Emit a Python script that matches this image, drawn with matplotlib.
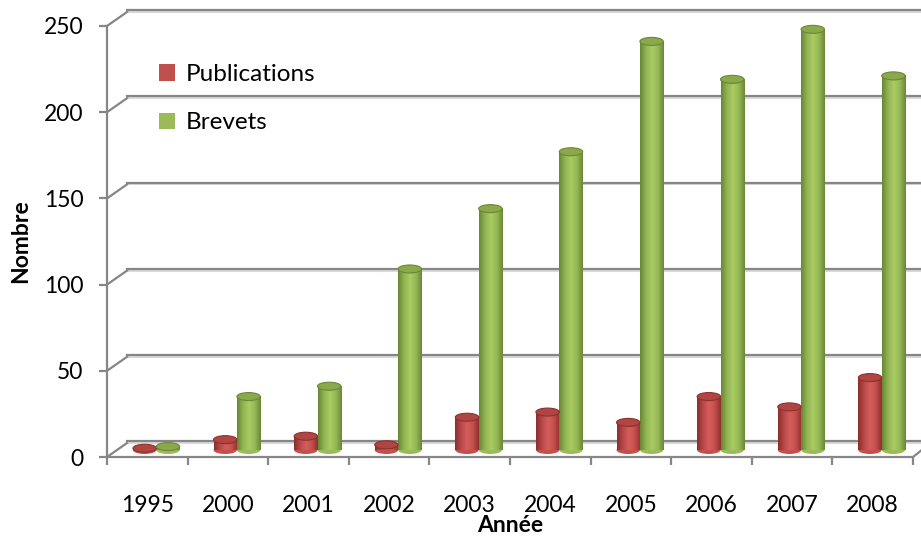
import matplotlib.pyplot as plt
import numpy as np
from matplotlib.colors import LinearSegmentedColormap
from matplotlib.patches import Ellipse, Patch
from matplotlib.transforms import ScaledTranslation

annees = ['1995', '2000', '2001', '2002', '2003', '2004', '2005', '2006', '2007', '2008']
publications = [1, 6, 8, 3, 19, 22, 16, 31, 25, 42]
brevets = [2, 31, 37, 105, 140, 173, 237, 215, 244, 217]
y_ticks = [0, 50, 100, 150, 200, 250]

plt.rcParams['font.family'] = ['Lato', 'DejaVu Sans']

fig = plt.figure(figsize=(9.21, 5.40), dpi=100)
ax = fig.add_axes([107 / 921, 83 / 540, 806 / 921, 431 / 540])
ax.set_xlim(-0.5, len(annees) - 0.5)
ax.set_ylim(0, 250)

grid_col = '#868686'
# back wall offset (3D look) in axes fraction
bx, by = 20 / 806, 14 / 431
for v in y_ticks:
    yf = v / 250
    ax.plot([bx, 1.2], [yf + by, yf + by], transform=ax.transAxes, color='#d9d9d9',
            lw=1.5, clip_on=False, zorder=0.5, solid_capstyle='butt')
    ax.plot([bx, 1.2], [yf + by + 0.004, yf + by + 0.004], transform=ax.transAxes,
            color=grid_col, lw=1.6, clip_on=False, zorder=1)
    ax.plot([0, bx], [yf, yf + by], transform=ax.transAxes, color=grid_col,
            lw=1.6, clip_on=False, zorder=1)
# right end of floor
ax.plot([1, 1.012], [0, 0.018], transform=ax.transAxes, color=grid_col, lw=1.6, clip_on=False)

# cylinders
shift = ScaledTranslation(9 / 100, 7 / 100, fig.dpi_scale_trans)
trans = ax.transData + shift
w = 0.29
ell_h = 8 / 1.724

red_cm = LinearSegmentedColormap.from_list('r', ['#8a2e2b', '#b8484a', '#d65e5b', '#c3504d', '#8f302d'])
green_cm = LinearSegmentedColormap.from_list('g', ['#6a8633', '#92b454', '#a9cc62', '#96b957', '#6b8734'])
grad = np.linspace(0, 1, 64).reshape(1, -1)

def cylinder(xc, h, cmap, base, top, edge):
    x0, x1 = xc - w / 2, xc + w / 2
    ax.add_patch(Ellipse((xc, 0), w, ell_h, facecolor=base, edgecolor='none',
                         transform=trans, zorder=2))
    ax.imshow(grad, extent=[x0, x1, 0, h], cmap=cmap, aspect='auto',
              interpolation='bicubic', transform=trans, zorder=3)
    ax.add_patch(Ellipse((xc, h), w, ell_h, facecolor=top, edgecolor=edge, lw=0.8,
                         transform=trans, zorder=4, clip_on=False))

for i in range(len(annees)):
    cylinder(i - w / 2, publications[i], red_cm, '#c3504d', '#b04643', '#8f302d')
    cylinder(i + w / 2, brevets[i], green_cm, '#9bbb59', '#8aa84c', '#6b8734')

ax.set_xlim(-0.5, len(annees) - 0.5)
ax.set_ylim(0, 250)

# axes styling
for s in ['top', 'right']:
    ax.spines[s].set_visible(False)
for s in ['left', 'bottom']:
    ax.spines[s].set_color(grid_col)
    ax.spines[s].set_linewidth(1.6)
ax.set_yticks(y_ticks)
ax.set_xticks(np.arange(-0.5, len(annees), 1))
ax.set_xticklabels([])
ax.set_xticks(np.arange(len(annees)), minor=True)
ax.set_xticklabels(annees, minor=True)
ax.tick_params(axis='y', length=6, width=1.6, color=grid_col, pad=11, labelsize=16.5)
ax.tick_params(axis='x', which='major', length=6, width=1.6, color=grid_col)
ax.tick_params(axis='x', which='minor', length=0, pad=27, labelsize=16.5)

ax.set_ylabel('Nombre', fontsize=16.5, fontweight='bold', labelpad=9)
ax.set_xlabel('Année', fontsize=16.5, fontweight='bold', labelpad=0)

handles = [Patch(facecolor='#c0504d', label='Publications'),
           Patch(facecolor='#9bbb59', label='Brevets')]
fig.legend(handles=handles, loc='upper left', bbox_to_anchor=(159 / 921, 1 - 64 / 540),
           frameon=False, fontsize=17.5, handlelength=0.65, handleheight=0.65,
           handletextpad=0.45, labelspacing=1.13, borderpad=0, borderaxespad=0)

fig.savefig('out.png', dpi=100)
